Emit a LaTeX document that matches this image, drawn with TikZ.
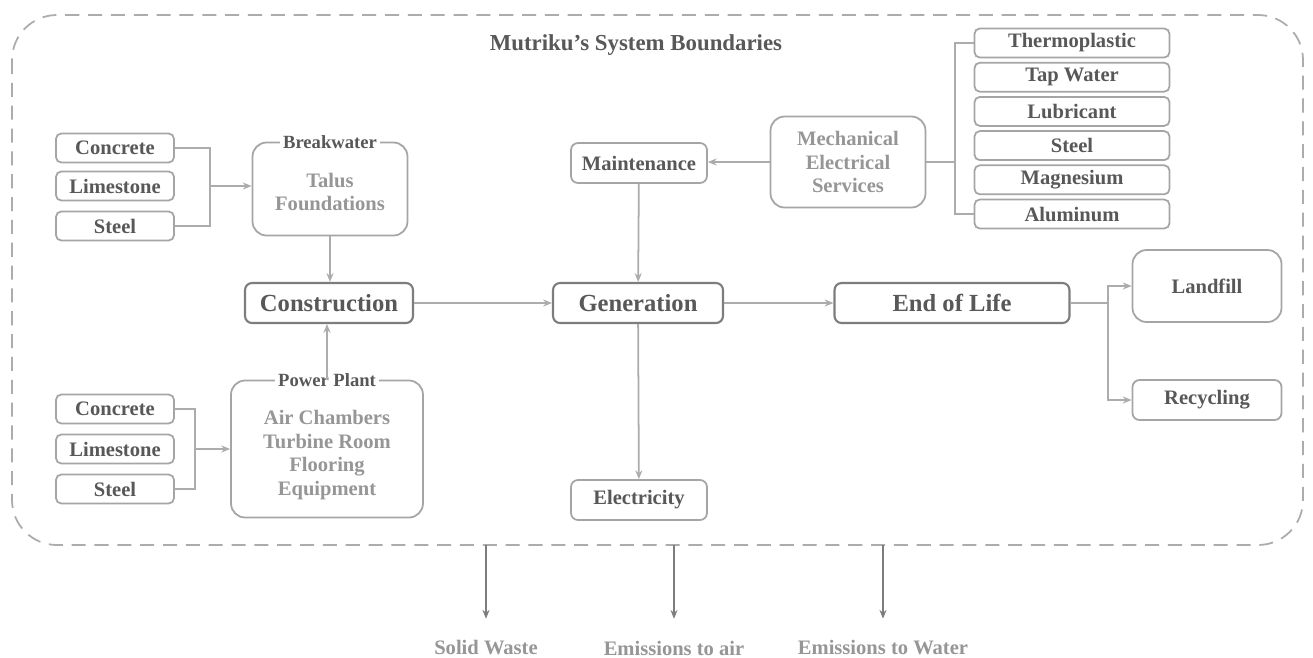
\documentclass[tikz,border=0pt]{standalone}
\usepackage{fontspec}
\setmainfont{Liberation Serif}
\usepackage{tikz}
\usetikzlibrary{positioning, arrows.meta, calc}
\usepackage{xcolor}

\definecolor{lineGray}{RGB}{172,172,172}
\definecolor{edgeGray}{RGB}{165,165,165}
\definecolor{mainEdge}{RGB}{125,125,125}
\definecolor{txtDark}{RGB}{88,88,88}
\definecolor{txtLight}{RGB}{150,150,150}
\definecolor{outGray}{RGB}{125,125,125}

\tikzset{
  matbox/.style={draw=edgeGray, line width=1pt, rounded corners=3pt, inner sep=0pt,
    minimum width=2.36cm, minimum height=0.58cm, text=txtDark,
    font=\fontsize{11.7}{13}\selectfont\bfseries},
  listbox/.style={matbox, minimum width=3.9cm},
  mainbox/.style={draw=mainEdge, line width=1.2pt, rounded corners=4pt, inner sep=0pt,
    minimum height=0.8cm, text=txtDark, font=\fontsize{14}{16}\selectfont\bfseries},
  subbox/.style={draw=edgeGray, line width=1pt, rounded corners=4pt, inner sep=0pt,
    minimum width=2.72cm, minimum height=0.8cm, text=txtDark,
    font=\fontsize{11.7}{13}\selectfont\bfseries},
  framebox/.style={draw=edgeGray, line width=1pt, rounded corners=8pt, inner sep=0pt,
    align=center, text=txtLight, font=\fontsize{11.7}{13.4}\selectfont\bfseries},
  frametext/.style={align=center, inner sep=0pt, text=txtLight,
    font=\fontsize{11.7}{13.6}\selectfont\bfseries},
  framelabel/.style={fill=white, inner sep=2pt, text=txtDark,
    font=\fontsize{10.6}{12}\selectfont\bfseries},
  outlabel/.style={text=txtLight, font=\fontsize{11.7}{13}\selectfont\bfseries},
  link/.style={draw=lineGray, line width=1pt},
}

\begin{document}
\begin{tikzpicture}[x=0.02cm, y=-0.02cm, >={Stealth[length=5pt, width=4pt]}]
  \useasboundingbox[fill=white] (0,0) rectangle (1313,657);

  % System boundary
  \draw[lineGray, line width=1pt, dash pattern=on 8pt off 5pt, rounded corners=0.9cm]
    (12,15) rectangle (1303,545);
  \node[text=txtDark, font=\fontsize{13}{15}\selectfont\bfseries] (title) at (636,45)
    {Mutriku's System Boundaries};

  % Breakwater inputs
  \node[matbox] (con1) at (115,148) {Concrete};
  \node[matbox] (lim1) at (115,186) {Limestone};
  \node[matbox] (ste1) at (115,226) {Steel};
  \node[framebox, minimum width=3.1cm, minimum height=1.86cm] (brk) at (330,189) {};
  \node[frametext] (brktxt) at (330,192) {Talus\\Foundations};
  \node[framelabel] (brklbl) at (brk.north) {Breakwater};

  % Power plant inputs
  \node[matbox] (con2) at (115,409) {Concrete};
  \node[matbox] (lim2) at (115,449) {Limestone};
  \node[matbox] (ste2) at (115,489) {Steel};
  \node[framebox, minimum width=3.84cm, minimum height=2.74cm] (pp) at (327,449) {};
  \node[frametext] (pptxt) at (327,455) {Air Chambers\\Turbine Room\\Flooring\\Equipment};
  \node[framelabel] (pplbl) at (pp.north) {Power Plant};

  % Life cycle stages
  \node[mainbox, minimum width=3.36cm] (cons) at (329,303) {Construction};
  \node[mainbox, minimum width=3.4cm] (gen) at (638,303) {Generation};
  \node[mainbox, minimum width=4.7cm] (eol) at (952,303) {End of Life};

  % Maintenance side
  \node[subbox] (mnt) at (639,163) {Maintenance};
  \node[subbox] (elec) at (639,500) {Electricity};
  \node[framebox, minimum width=3.1cm, minimum height=1.82cm] (mech) at (848,162)
    {Mechanical\\Electrical\\Services};
  \foreach \mat [count=\i from 0] in {Thermoplastic, Tap Water, Lubricant, Steel, Magnesium, Aluminum}
    \node[listbox] (m\i) at (1072,{43+34.2*\i}) {\mat};

  % End of life routes
  \node[subbox, minimum width=2.98cm, minimum height=1.44cm, rounded corners=8pt] (land) at (1207,286) {Landfill};
  \node[subbox, minimum width=2.98cm] (recy) at (1207,400) {Recycling};

  % Outputs
  \node[outlabel] (sw) at (486,648) {Solid Waste};
  \node[outlabel] (air) at (674,648) {Emissions to air};
  \node[outlabel] (wat) at (883,648) {Emissions to Water};

  % Junctions
  \coordinate (jb) at (210,186);
  \coordinate (jp) at (195,449);
  \coordinate (jm) at (955,162);
  \coordinate (je) at (1108,303);
  \coordinate (o1) at (486,545);
  \coordinate (o2) at (674,545);
  \coordinate (o3) at (883,545);

  % Connectors
  \draw[link] (con1.east) -| (jb);
  \draw[link] (ste1.east) -| (jb);
  \draw[link, ->] (jb) -- (jb -| brk.west);
  \draw[link] (con2.east) -| (jp);
  \draw[link] (ste2.east) -| (jp);
  \draw[link, ->] (jp) -- (jp -| pp.west);
  \draw[link, ->] (brk.south) -- (brk.south |- cons.north);
  \draw[link, ->] (pp.north) -- (pp.north |- cons.south);
  \draw[link, ->] (cons) -- (gen);
  \draw[link, ->] (gen) -- (eol);
  \draw[link, ->] (mnt) -- (gen);
  \draw[link, ->] (gen) -- (elec);
  \draw[link, ->] (mech.west) -- (mech.west -| mnt.east);
  \draw[link] (mech.east) -- (jm);
  \draw[link] (m0.west) -| (jm);
  \draw[link] (m5.west) -| (jm);
  \draw[link] (eol.east) -- (je);
  \draw[link, ->] (je) |- (land.west);
  \draw[link, ->] (je) |- (recy.west);
  \foreach \o/\t in {o1/sw, o2/air, o3/wat}
    \draw[draw=outGray, line width=1.1pt, ->, shorten >=9pt] (\o) -- (\t);
\end{tikzpicture}
\end{document}
